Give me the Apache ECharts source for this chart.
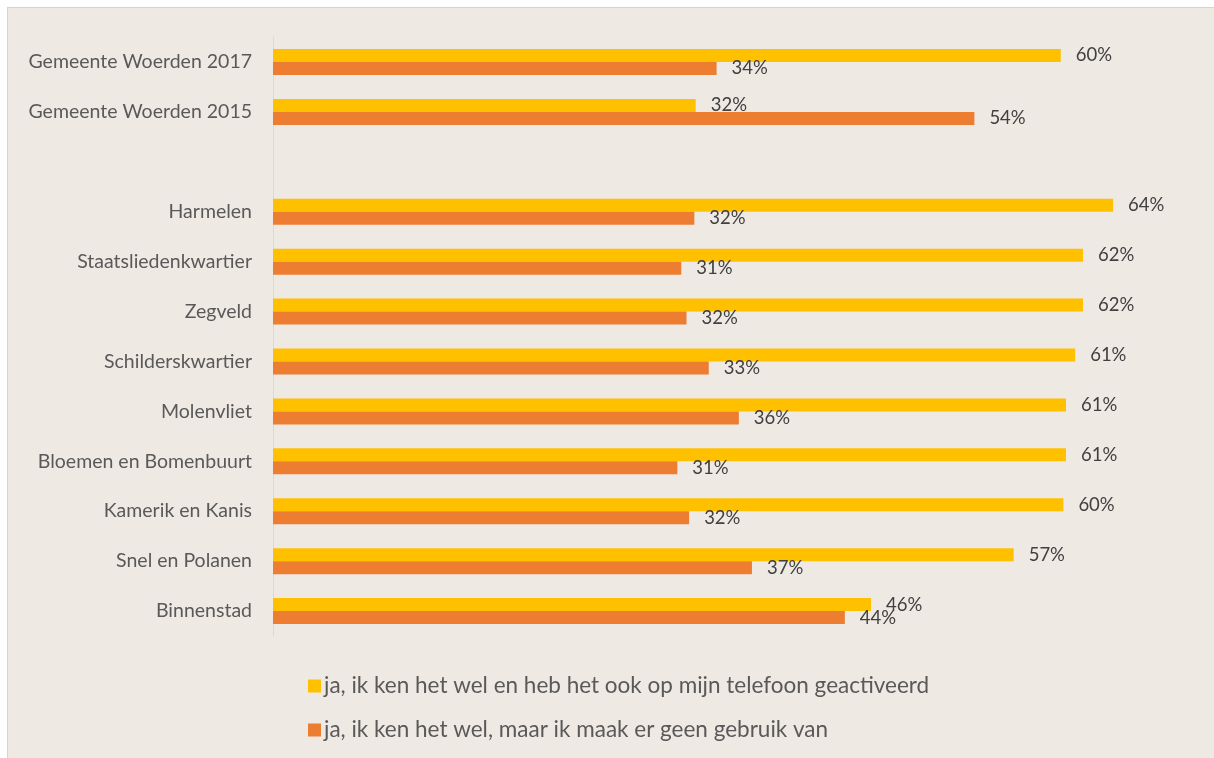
<!DOCTYPE html>
<html>
<head>
<meta charset="utf-8">
<script src="https://cdn.jsdelivr.net/npm/echarts@6/dist/echarts.min.js"></script>
<style>
  html, body { margin: 0; padding: 0; background: #ffffff; }
  #frame { position: absolute; left: 7px; top: 7px; width: 1207px; height: 751px; border-top: 1px solid #d6d2cc; border-left: 1px solid #d6d2cc; background: #efe9e3; }
  #chart { position: absolute; left: 0; top: 0; width: 1207px; height: 751px; }
</style>
</head>
<body>
<div id="frame"><div id="chart"></div></div>
<script>
const categories = [
  'Gemeente Woerden 2017', 'Gemeente Woerden 2015', '',
  'Harmelen', 'Staatsliedenkwartier', 'Zegveld', 'Schilderskwartier',
  'Molenvliet', 'Bloemen en Bomenbuurt', 'Kamerik en Kanis',
  'Snel en Polanen', 'Binnenstad'
];
const seriesNames = [
  'ja, ik ken het wel en heb het ook op mijn telefoon geactiveerd',
  'ja, ik ken het wel, maar ik maak er geen gebruik van'
];
const activated = [60.2, 32.3, null, 64.2, 61.9, 61.9, 61.3, 60.6, 60.6, 60.4, 56.6, 45.7];
const notUsed   = [33.9, 53.6, null, 32.2, 31.2, 31.6, 33.3, 35.6, 30.9, 31.8, 36.6, 43.7];
const colors = ['#ffc000', '#ed7d31'];

const FONT = 'Lato, "Open Sans", sans-serif';
const chart = echarts.init(document.getElementById('chart'), null, { renderer: 'canvas' });

function mkSeries(name, data, color) {
  return {
    name: name,
    type: 'bar',
    data: data,
    barWidth: 13,
    barGap: '0%',
    itemStyle: { color: color },
    label: {
      show: true,
      position: 'right',
      distance: 15,
      color: '#404040',
      fontFamily: FONT,
      fontSize: 18.5,
      formatter: p => (p.value == null ? '' : Math.round(p.value) + '%')
    },
    animation: false
  };
}

chart.setOption({
  backgroundColor: 'transparent',
  textStyle: { fontFamily: FONT },
  grid: { left: 265, top: 29, width: 916, height: 599, containLabel: false },
  legend: {
    orient: 'vertical',
    left: 295,
    top: 661,
    itemWidth: 13,
    itemHeight: 13,
    itemGap: 20,
    icon: 'rect',
    data: seriesNames,
    textStyle: { color: '#595959', fontSize: 22.5, fontFamily: FONT, lineHeight: 24, padding: [0, 0, 0, -2] }
  },
  xAxis: {
    type: 'value',
    min: 0,
    max: 70,
    show: false
  },
  yAxis: {
    type: 'category',
    data: categories,
    inverse: true,
    axisLine: { show: true, lineStyle: { color: '#d9d9d9', width: 1 } },
    axisTick: { show: false },
    axisLabel: { color: '#595959', fontSize: 19.5, fontFamily: FONT, margin: 21 },
    splitLine: { show: false }
  },
  series: [
    mkSeries(seriesNames[0], activated, colors[0]),
    mkSeries(seriesNames[1], notUsed, colors[1])
  ]
});
</script>
</body>
</html>
